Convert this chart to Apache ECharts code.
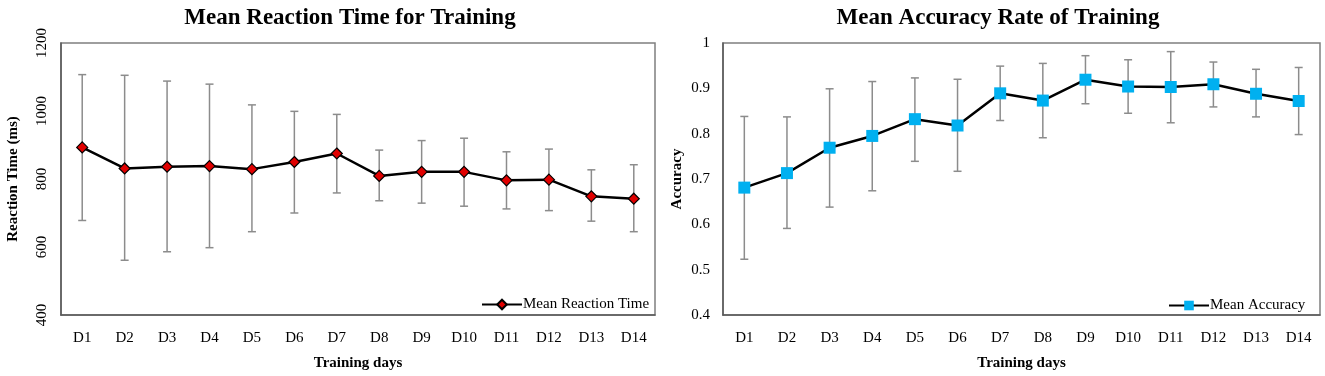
<!DOCTYPE html>
<html>
<head>
<meta charset="utf-8">
<script src="https://cdn.jsdelivr.net/npm/echarts@6/dist/echarts.min.js"></script>
<style>html,body{margin:0;padding:0;background:#fff;}#c{width:1325px;height:376px;}</style>
</head>
<body>
<div id="c"></div>
<script>
const days = ['D1','D2','D3','D4','D5','D6','D7','D8','D9','D10','D11','D12','D13','D14'];
const rtMean = [893, 831, 836, 838, 829, 850, 875, 809, 821, 821, 796, 798, 749, 742];
const rtHigh = [1107, 1105, 1088, 1079, 1018, 999, 990, 885, 913, 920, 880, 888, 827, 842];
const rtLow  = [678, 561, 586, 598, 645, 700, 759, 736, 729, 720, 712, 707, 676, 645];
const accMean = [0.681, 0.713, 0.769, 0.795, 0.832, 0.818, 0.889, 0.873, 0.919, 0.904, 0.903, 0.909, 0.888, 0.872];
const accHigh = [0.838, 0.837, 0.899, 0.915, 0.923, 0.920, 0.949, 0.955, 0.972, 0.963, 0.981, 0.958, 0.942, 0.946];
const accLow  = [0.523, 0.591, 0.638, 0.674, 0.739, 0.717, 0.829, 0.791, 0.866, 0.845, 0.824, 0.859, 0.837, 0.798];

const FONT = '"Liberation Serif","Times New Roman",serif';
const chart = echarts.init(document.getElementById('c'), null, {renderer: 'canvas'});

function errData(lo, hi) { return lo.map((v, i) => [i, v, hi[i]]); }
function errRender(params, api) {
  const x = api.value(0);
  const lo = api.coord([x, api.value(1)]);
  const hi = api.coord([x, api.value(2)]);
  const cap = 4;
  const st = {stroke: '#8c8c8c', lineWidth: 1.5};
  return {type: 'group', children: [
    {type: 'line', shape: {x1: lo[0], y1: lo[1], x2: hi[0], y2: hi[1]}, style: st},
    {type: 'line', shape: {x1: lo[0]-cap, y1: lo[1], x2: lo[0]+cap, y2: lo[1]}, style: st},
    {type: 'line', shape: {x1: hi[0]-cap, y1: hi[1], x2: hi[0]+cap, y2: hi[1]}, style: st}
  ]};
}

const xAxisBase = {
  type: 'category', data: days, boundaryGap: true,
  axisLine: {show: true, lineStyle: {color: '#595959', width: 1.5}},
  axisTick: {show: false},
  axisLabel: {color: '#000', fontFamily: FONT, fontSize: 15, margin: 16},
  name: 'Training days', nameLocation: 'middle', nameGap: 41,
  nameTextStyle: {color: '#000', fontFamily: FONT, fontSize: 15, fontWeight: 'bold'},
  splitLine: {show: false}
};

const option = {
  backgroundColor: '#fff',
  animation: false,
  graphic: [
    {type: 'text', z: 10, style: {x: 350, y: 18, text: 'Mean Reaction Time for Training', font: 'bold 23px ' + FONT, fill: '#000', textAlign: 'center', textVerticalAlign: 'middle'}},
    {type: 'text', z: 10, style: {x: 998, y: 18, text: 'Mean Accuracy Rate of Training', font: 'bold 23px ' + FONT, fill: '#000', textAlign: 'center', textVerticalAlign: 'middle'}}
  ],
  grid: [
    {left: 61, top: 43, width: 594, height: 277, show: true, borderColor: '#7f7f7f', borderWidth: 1.5, backgroundColor: 'transparent'},
    {left: 723, top: 43, width: 597, height: 278, show: true, borderColor: '#7f7f7f', borderWidth: 1.5, backgroundColor: 'transparent'}
  ],
  xAxis: [
    Object.assign({}, xAxisBase, {gridIndex: 0}),
    Object.assign({}, xAxisBase, {gridIndex: 1})
  ],
  yAxis: [
    {
      gridIndex: 0, type: 'value', min: 400, max: 1200, interval: 200,
      axisLine: {show: true, lineStyle: {color: '#595959', width: 1.5}},
      axisTick: {show: false}, splitLine: {show: false},
      axisLabel: {color: '#000', fontFamily: FONT, fontSize: 15, rotate: 90, margin: 11,
        formatter: v => String(v)},
      name: 'Reaction Time (ms)', nameLocation: 'middle', nameGap: 40,
      nameTextStyle: {color: '#000', fontFamily: FONT, fontSize: 15, fontWeight: 'bold'}
    },
    {
      gridIndex: 1, type: 'value', min: 0.4, max: 1, interval: 0.1,
      axisLine: {show: true, lineStyle: {color: '#595959', width: 1.5}},
      axisTick: {show: false}, splitLine: {show: false},
      axisLabel: {color: '#000', fontFamily: FONT, fontSize: 15, margin: 13,
        formatter: v => (Math.round(v * 10) / 10).toString()},
      name: 'Accuracy', nameLocation: 'middle', nameGap: 38,
      nameTextStyle: {color: '#000', fontFamily: FONT, fontSize: 15, fontWeight: 'bold'}
    }
  ],
  legend: [
    {data: ['Mean Reaction Time'], left: 476, top: 292, itemWidth: 40, itemHeight: 12, itemGap: 0,
     textStyle: {color: '#000', fontFamily: FONT, fontSize: 15, padding: [0, 0, 0, -4]}},
    {data: ['Mean Accuracy'], left: 1163, top: 293, itemWidth: 40, itemHeight: 12, itemGap: 0,
     textStyle: {color: '#000', fontFamily: FONT, fontSize: 15, padding: [0, 0, 0, -4]}}
  ],
  series: [
    {type: 'custom', xAxisIndex: 0, yAxisIndex: 0, data: errData(rtLow, rtHigh), renderItem: errRender, z: 1, silent: true},
    {type: 'custom', xAxisIndex: 1, yAxisIndex: 1, data: errData(accLow, accHigh), renderItem: errRender, z: 1, silent: true},
    {name: 'Mean Reaction Time', type: 'line', xAxisIndex: 0, yAxisIndex: 0, data: rtMean, z: 3,
     symbol: 'diamond', symbolSize: 11,
     lineStyle: {color: '#000', width: 2.5},
     itemStyle: {color: '#e00000', borderColor: '#000', borderWidth: 1.2}},
    {name: 'Mean Accuracy', type: 'line', xAxisIndex: 1, yAxisIndex: 1, data: accMean, z: 3,
     symbol: 'rect', symbolSize: 12,
     lineStyle: {color: '#000', width: 2.5},
     itemStyle: {color: '#00b0f0', borderWidth: 0}}
  ]
};
chart.setOption(option);
</script>
</body>
</html>
